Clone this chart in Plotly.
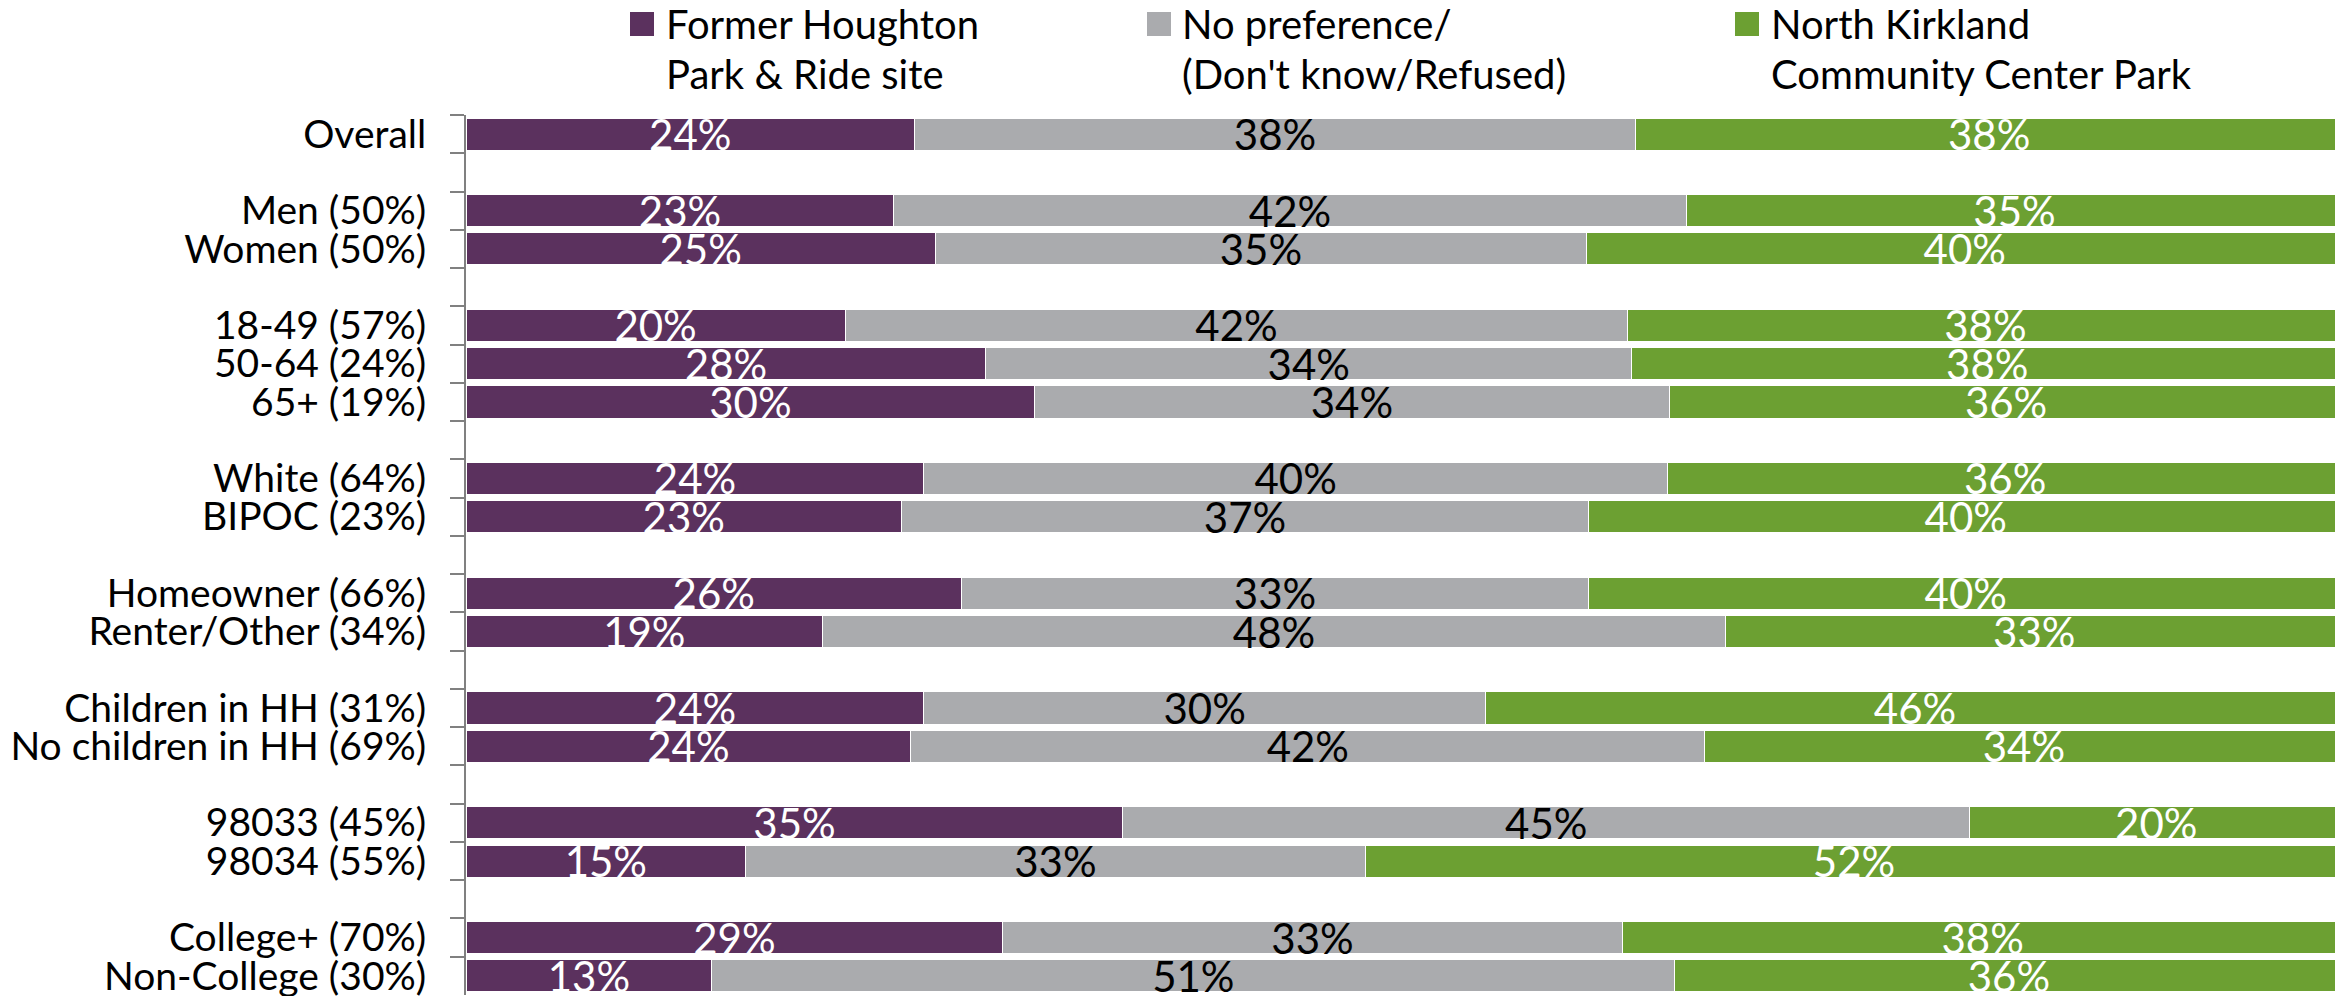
import plotly.graph_objects as go

# filas del grafico (las cadenas en blanco son separadores entre grupos)
grupos = [
    "Overall", " ",
    "Men (50%)", "Women (50%)", "  ",
    "18-49 (57%)", "50-64 (24%)", "65+ (19%)", "   ",
    "White (64%)", "BIPOC (23%)", "    ",
    "Homeowner (66%)", "Renter/Other (34%)", "     ",
    "Children in HH (31%)", "No children in HH (69%)", "      ",
    "98033 (45%)", "98034 (55%)", "       ",
    "College+ (70%)", "Non-College (30%)",
]

houghton = [23.9, None, 22.8, 25.0, None, 20.2, 27.7, 30.3, None, 24.4, 23.2, None,
            26.4, 19.0, None, 24.4, 23.7, None, 35.0, 14.9, None, 28.6, 13.1]
sin_pref = [38.4, None, 42.2, 34.7, None, 41.7, 34.4, 33.8, None, 39.6, 36.6, None,
            33.4, 48.1, None, 29.9, 42.3, None, 45.1, 33.0, None, 33.0, 51.3]
kirkland = [37.7, None, 35.0, 40.3, None, 38.1, 37.9, 35.9, None, 36.0, 40.2, None,
            40.2, 32.9, None, 45.8, 34.0, None, 19.9, 52.1, None, 38.4, 35.6]

series = [
    ("Former Houghton", "Park & Ride site", houghton, "#5B315E", "white"),
    ("No preference/", "(Don't know/Refused)", sin_pref, "#AAABAE", "black"),
    ("North Kirkland", "Community Center Park", kirkland, "#6CA032", "white"),
]

FONT = "Lato"
# la pagina deja 8px de margen en el body, asi que la figura es 8px menor
W, H = 2335, 988
L, T, B = 458, 107, 1


def px_x(p):
    return (p - L) / (W - L)


def px_y(p):
    return (H - B - p) / (H - T - B)


fig = go.Figure()

for l1, l2, vals, color, tcolor in series:
    fig.add_trace(go.Bar(
        y=grupos,
        x=vals,
        orientation="h",
        name=l1 + " " + l2,
        marker=dict(color=color, line=dict(color="white", width=1)),
        text=["" if v is None else f"{v:.0f}%" for v in vals],
        textposition="inside",
        insidetextanchor="middle",
        constraintext="none",
        textangle=0,
        textfont=dict(family=FONT, size=42, color=tcolor),
        showlegend=False,
        hoverinfo="skip",
    ))

# leyenda dibujada a mano (cuadro + dos lineas de texto)
legend_pos = [(622, 656), (1139, 1172), (1727, 1761)]
for (sq, tx), (l1, l2, _, color, _) in zip(legend_pos, series):
    fig.add_shape(type="rect", xref="paper", yref="paper",
                  x0=px_x(sq), x1=px_x(sq + 24), y0=px_y(28), y1=px_y(4),
                  fillcolor=color, line=dict(width=0))
    for texto, cy in ((l1, 16), (l2, 66)):
        fig.add_annotation(text=texto, xref="paper", yref="paper",
                           x=px_x(tx), y=px_y(cy), xanchor="left", yanchor="middle",
                           showarrow=False, font=dict(family=FONT, size=40, color="black"))

fig.update_layout(
    barmode="stack",
    bargap=0.16,
    width=W,
    height=H,
    margin=dict(l=L, r=0, t=T, b=B, autoexpand=False),
    plot_bgcolor="white",
    paper_bgcolor="white",
    font=dict(family=FONT, size=40, color="black"),
)

fig.update_xaxes(range=[0, 100], visible=False, fixedrange=True)
fig.update_yaxes(
    type="category",
    categoryorder="array",
    categoryarray=grupos,
    range=[len(grupos) - 0.5, -0.5],
    tickmode="linear",
    tick0=0,
    dtick=1,
    automargin=False,
    showline=True,
    linecolor="#808080",
    linewidth=2,
    ticks="outside",
    tickson="boundaries",
    ticklen=14,
    tickwidth=2,
    tickcolor="#808080",
    ticklabelstandoff=30,
    showgrid=False,
    tickfont=dict(family=FONT, size=39, color="black"),
)

fig.write_html("out.html")
